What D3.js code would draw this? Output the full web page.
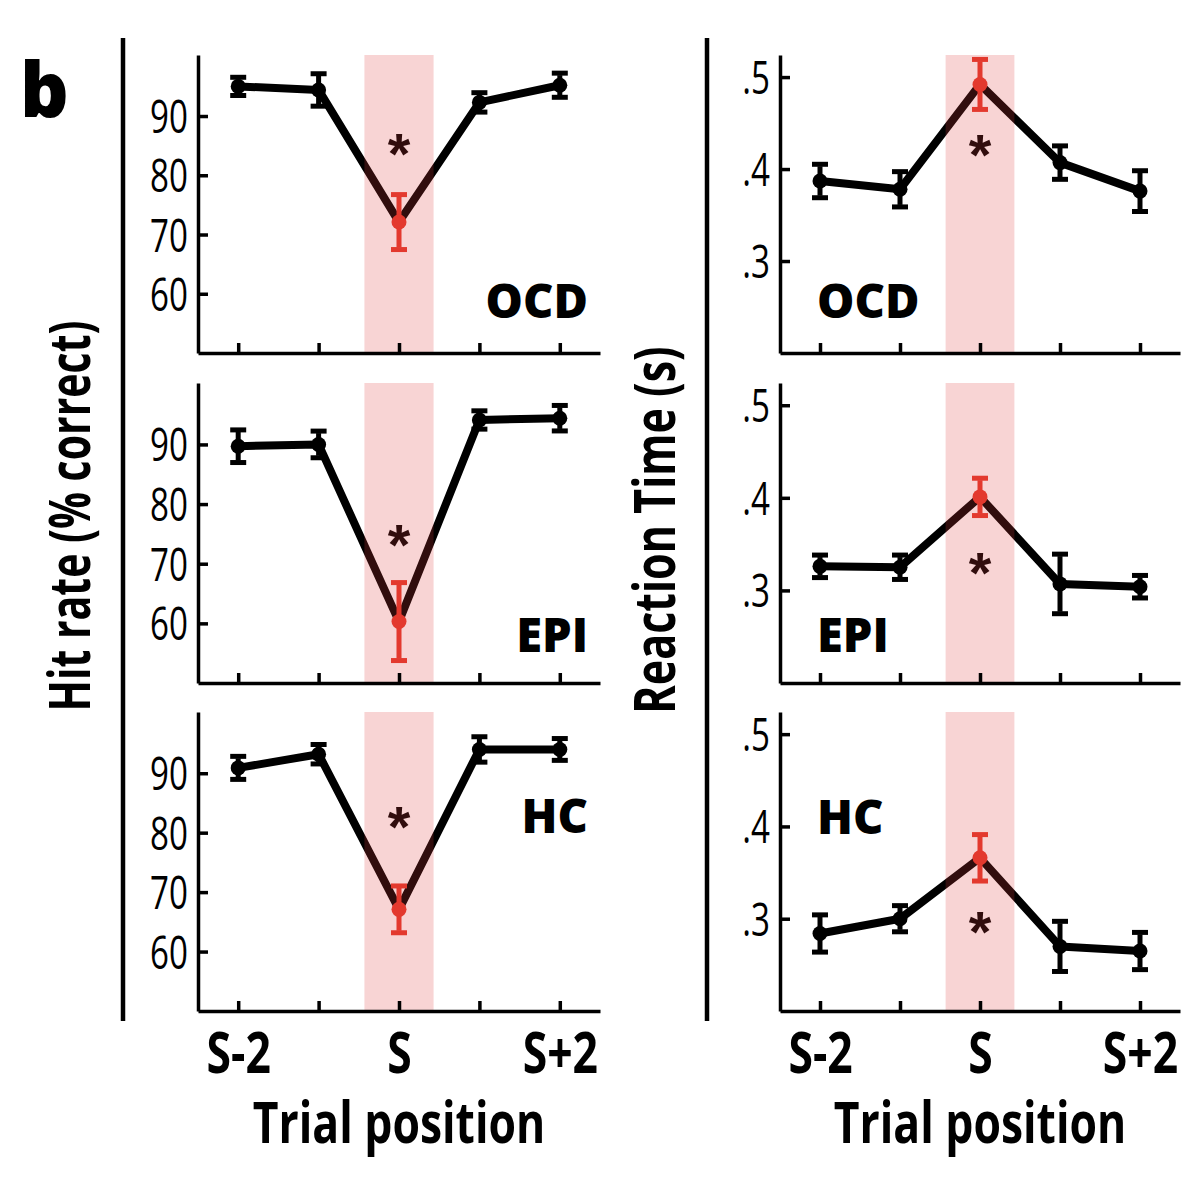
<!doctype html>
<meta charset="utf-8">
<title>Hit rate and reaction time by trial position</title>
<script src="https://cdn.jsdelivr.net/npm/d3@7"></script>
<style>
  body { margin: 0; background: #fff; }
  text { font-family: "Open Sans", "Lato", sans-serif; fill: #000; }
  .bold { font-weight: bold; }
</style>
<body>
<div id="chart"></div>
<script>
  // trial positions around the switch trial S
  const categories = ["S-2", "S-1", "S", "S+1", "S+2"]
  const tickLabels = ["S-2", "", "S", "", "S+2"]
  const groups = ["OCD", "EPI", "HC"]

  // hit rate (% correct), mean and error
  const hitOCD = [95.0, 94.4, 72.1, 92.3, 95.2]
  const hitOCDErr = [1.2, 2.4, 4.3, 1.3, 1.7]
  const hitEPI = [89.7, 90.0, 60.3, 94.1, 94.4]
  const hitEPIErr = [2.4, 1.9, 6.2, 1.2, 1.8]
  const hitHC = [90.9, 93.2, 67.1, 94.0, 94.0]
  const hitHCErr = [1.6, 1.3, 3.6, 1.8, 1.5]

  // reaction time (s), mean and error
  const rtOCD = [0.387, 0.378, 0.492, 0.407, 0.376]
  const rtOCDErr = [0.016, 0.017, 0.025, 0.016, 0.020]
  const rtEPI = [0.326, 0.325, 0.401, 0.307, 0.304]
  const rtEPIErr = [0.010, 0.011, 0.018, 0.030, 0.010]
  const rtHC = [0.284, 0.300, 0.366, 0.270, 0.265]
  const rtHCErr = [0.018, 0.012, 0.023, 0.025, 0.018]

  const hitTicks = [60, 70, 80, 90]
  const rtTicks = [0.3, 0.4, 0.5]

  // asterisk positions (data units)
  const hitStar = [85.8, 75.4, 83.2]
  const rtStar = [0.429, 0.333, 0.300]

  const W = 1200, H = 1178
  const red = "#e3392e"

  const svg = d3.select("#chart").append("svg")
    .attr("width", W)
    .attr("height", H)

  // squeeze text to a narrow width (the original face is condensed)
  function squeeze(sel, f) {
    sel.each(function () {
      const len = this.getComputedTextLength()
      if (len > 0) d3.select(this).attr("textLength", len * f).attr("lengthAdjust", "spacingAndGlyphs")
    })
  }

  const rowTop = [55, 383, 712]
  const rowBottom = [353, 683, 1011]

  const columns = [
    {
      xRange: [198, 600],
      domain: [50, 100.3],
      ticks: hitTicks,
      fmt: d => d,
      means: [hitOCD, hitEPI, hitHC],
      errs: [hitOCDErr, hitEPIErr, hitHCErr],
      stars: hitStar,
      labelAnchor: "end",
      labelX: 588,
      labelY: [318, 652, 833]
    },
    {
      xRange: [780, 1180],
      domain: [0.2, 0.524],
      ticks: rtTicks,
      fmt: d => d3.format(".1f")(d).replace(/^0/, ""),
      means: [rtOCD, rtEPI, rtHC],
      errs: [rtOCDErr, rtEPIErr, rtHCErr],
      stars: rtStar,
      labelAnchor: "start",
      labelX: 817,
      labelY: [318, 652, 834]
    }
  ]

  columns.forEach(col => {
    const x = d3.scalePoint()
      .domain(categories)
      .range(col.xRange)
      .padding(0.5)
    const step = x.step()

    groups.forEach((g, r) => {
      const y = d3.scaleLinear()
        .domain(col.domain)
        .range([rowBottom[r], rowTop[r]])

      const panel = svg.append("g")

      const rows = categories.map((c, i) => ({ c, m: col.means[r][i], e: col.errs[r][i] }))

      // connecting line
      panel.append("path")
        .datum(rows)
        .attr("d", d3.line().x(d => x(d.c)).y(d => y(d.m)))
        .attr("fill", "none")
        .attr("stroke", "#000")
        .attr("stroke-width", 8)
        .attr("stroke-linejoin", "round")

      // asterisk
      panel.append("text")
        .attr("class", "bold")
        .attr("x", x("S"))
        .attr("y", y(col.stars[r]) + 33)
        .attr("text-anchor", "middle")
        .style("font-family", "'Liberation Sans', sans-serif")
        .style("font-size", "58px")
        .text("*")

      // highlighted switch trial
      panel.append("rect")
        .attr("x", x("S") - step * 0.43)
        .attr("width", step * 0.86)
        .attr("y", rowTop[r])
        .attr("height", rowBottom[r] - rowTop[r])
        .attr("fill", "rgb(222, 60, 60)")
        .attr("fill-opacity", 0.22)

      // error bars
      const bars = panel.selectAll(".err")
        .data(rows)
        .join("g")
        .attr("stroke", d => d.c === "S" ? red : "#000")
        .attr("stroke-width", 5)
      bars.append("line")
        .attr("x1", d => x(d.c)).attr("x2", d => x(d.c))
        .attr("y1", d => y(d.m - d.e)).attr("y2", d => y(d.m + d.e))
      bars.append("line")
        .attr("x1", d => x(d.c) - 8).attr("x2", d => x(d.c) + 8)
        .attr("y1", d => y(d.m - d.e) + 2).attr("y2", d => y(d.m - d.e) + 2)
      bars.append("line")
        .attr("x1", d => x(d.c) - 8).attr("x2", d => x(d.c) + 8)
        .attr("y1", d => y(d.m + d.e) - 2).attr("y2", d => y(d.m + d.e) - 2)

      panel.selectAll("circle")
        .data(rows)
        .join("circle")
        .attr("cx", d => x(d.c))
        .attr("cy", d => y(d.m))
        .attr("r", 7.5)
        .attr("fill", d => d.c === "S" ? red : "#000")

      // axes
      const yAxis = panel.append("g")
        .attr("transform", `translate(${col.xRange[0]},0)`)
        .call(d3.axisLeft(y).tickValues(col.ticks).tickFormat(col.fmt)
          .tickSize(-10).tickSizeOuter(0).tickPadding(10))
      const xAxis = panel.append("g")
        .attr("transform", `translate(0,${rowBottom[r]})`)
        .call(d3.axisBottom(x).tickSize(-10).tickSizeOuter(0).tickPadding(20)
          .tickFormat((d, i) => r === 2 ? tickLabels[i] : ""))

      for (const a of [xAxis, yAxis]) {
        a.select(".domain").attr("stroke-width", 3.5)
        a.selectAll(".tick line").attr("stroke-width", 3.5)
      }
      yAxis.selectAll(".tick text")
        .style("font-family", "'Open Sans', sans-serif")
        .style("font-size", "46px")
        .style("font-weight", 500)
        .attr("dy", "0.36em")
        .call(squeeze, 0.72)
      xAxis.selectAll(".tick text")
        .attr("class", "bold")
        .style("font-size", "57px")
        .attr("dy", "0.74em")
        .attr("transform", "scale(0.78,1)")
        .attr("fill", d => d === "S" ? red : "#000")

      // group label
      panel.append("text")
        .attr("x", col.labelX)
        .attr("y", col.labelY[r])
        .attr("text-anchor", col.labelAnchor)
        .style("font-size", "47px")
        .style("font-weight", 800)
        .text(g)
    })

    // x axis title
    svg.append("text")
      .attr("class", "bold")
      .attr("transform", `translate(${(x("S-2") + x("S+2")) / 2},1143) scale(0.78,1)`)
      .attr("text-anchor", "middle")
      .style("font-size", "57px")
      .text("Trial position")
  })

  // divider lines
  svg.selectAll(".divider")
    .data([123, 707])
    .join("line")
    .attr("x1", d => d).attr("x2", d => d)
    .attr("y1", 38).attr("y2", 1021)
    .attr("stroke", "#000")
    .attr("stroke-width", 4.5)

  // y axis titles
  svg.append("text")
    .attr("class", "bold")
    .attr("transform", "translate(90,516) rotate(-90) scale(0.72,1)")
    .attr("text-anchor", "middle")
    .style("font-size", "57px")
    .text("Hit rate (% correct)")

  svg.append("text")
    .attr("class", "bold")
    .attr("transform", "translate(675,530) rotate(-90) scale(0.755,1)")
    .attr("text-anchor", "middle")
    .style("font-size", "57px")
    .text("Reaction Time (s)")

  // panel letter
  svg.append("text")
    .attr("x", 20)
    .attr("y", 117)
    .style("font-size", "76px")
    .style("font-weight", 800)
    .text("b")
</script>
</body>
